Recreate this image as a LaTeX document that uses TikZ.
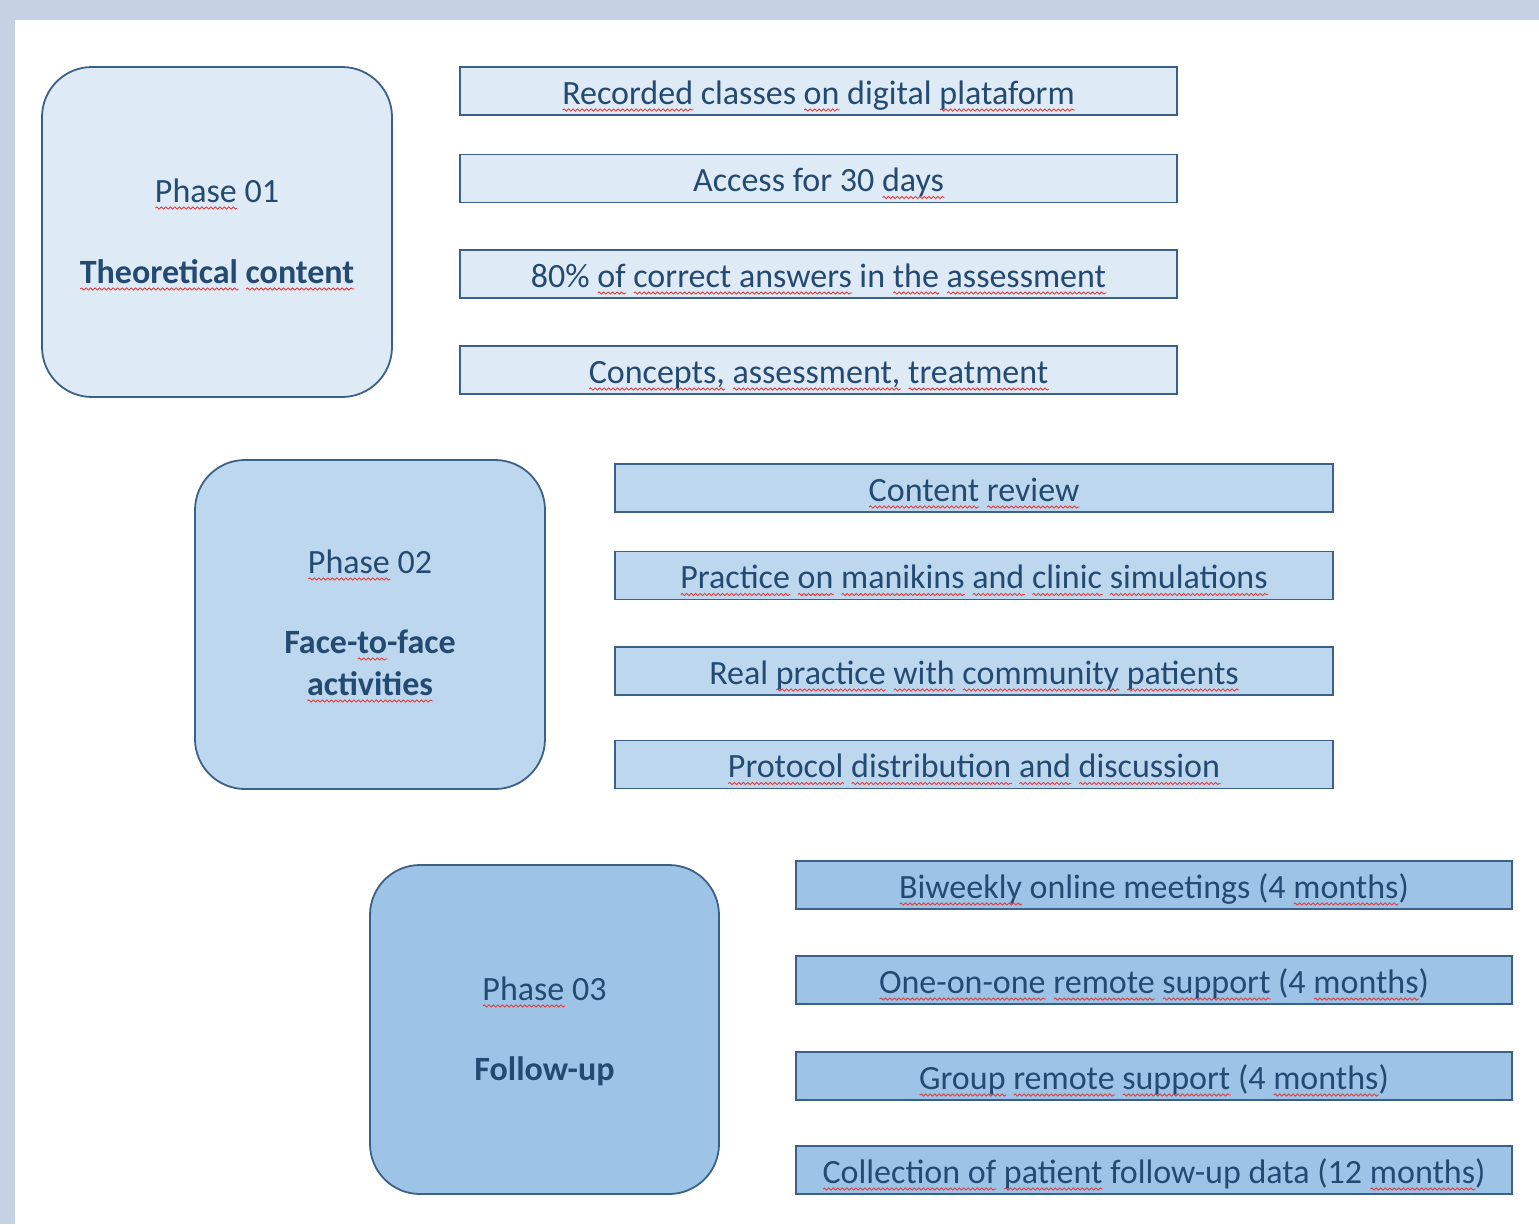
\documentclass[tikz,border=0pt]{standalone}
\usepackage{fontspec}
\setmainfont{Carlito}
\usetikzlibrary{decorations.pathmorphing}
\definecolor{frame}{HTML}{C5D2E3}
\definecolor{txt}{HTML}{244A72}
\definecolor{edge}{HTML}{3C6189}
\definecolor{fillA}{HTML}{DEEAF6}
\definecolor{fillB}{HTML}{BDD7EE}
\definecolor{fillC}{HTML}{9DC3E6}
\definecolor{sqred}{HTML}{E23C3C}
\newsavebox\sqbox
\newcommand\sq[1]{\sbox\sqbox{#1}\rlap{\tikz[baseline=0pt]\draw[sqred, line width=0.9pt, decorate, decoration={snake, amplitude=1.1pt, segment length=4.5pt}] (0pt,-6pt) -- (\wd\sqbox,-6pt);}\usebox\sqbox}
\tikzset{
  phasebox/.style={draw=edge, line width=1.8pt, rounded corners=50pt, minimum width=350pt, minimum height=330pt, inner sep=0pt},
  itembox/.style={draw=edge, line width=1.8pt, minimum width=717pt, minimum height=48pt, inner sep=0pt,
     text=txt, font=\fontsize{34}{40}\selectfont, text height=26pt, text depth=0pt},
  phaselabel/.style={anchor=base, text=txt, inner sep=0pt, font=\fontsize{34}{40}\selectfont},
  phasetitle/.style={anchor=base, text=txt, inner sep=0pt, font=\fontsize{34}{40}\selectfont\bfseries}
}
\begin{document}
\begin{tikzpicture}[x=1pt, y=-1pt]
\useasboundingbox (0,0) rectangle (1539,1224);
\fill[frame] (0,0) rectangle (1539,1224);
\fill[white] (15,20) rectangle (1539,1224);

% Phase 01
\node[phasebox, fill=fillA] (p1) at (217,232) {};
\node[phaselabel] (p1a) at (217,202) {\sq{Phase} 01};
\node[phasetitle] (p1b) at (217,283) {\sq{Theoretical} \sq{content}};
\node[itembox, fill=fillA] (a1) at (818.5,91) {\sq{Recorded} classes \sq{on} digital \sq{plataform}};
\node[itembox, fill=fillA] (a2) at (818.5,178.5) {Access for 30 \sq{days}};
\node[itembox, fill=fillA] (a3) at (818.5,274) {80\% \sq{of} \sq{correct answers} in \sq{the} \sq{assessment}};
\node[itembox, fill=fillA] (a4) at (818.5,370) {\sq{Concepts,} \sq{assessment,} \sq{treatment}};

% Phase 02
\node[phasebox, fill=fillB, minimum height=329pt] (p2) at (370,624.5) {};
\node[phaselabel] (p2a) at (370,573) {\sq{Phase} 02};
\node[phasetitle] (p2b) at (370,653) {Face-\sq{to}-face};
\node[phasetitle] (p2c) at (370,695) {\sq{activities}};
\node[itembox, fill=fillB, minimum width=718pt] (b1) at (974,488) {\sq{Content} \sq{review}};
\node[itembox, fill=fillB, minimum width=718pt] (b2) at (974,575.5) {\sq{Practice} \sq{on} \sq{manikins} \sq{and} \sq{clinic} \sq{simulations}};
\node[itembox, fill=fillB, minimum width=718pt] (b3) at (974,671) {Real \sq{practice} \sq{with} \sq{community} \sq{patients}};
\node[itembox, fill=fillB, minimum width=718pt] (b4) at (974,764.5) {\sq{Protocol} \sq{distribution} \sq{and} \sq{discussion}};

% Phase 03
\node[phasebox, fill=fillC, minimum width=349pt, minimum height=329pt] (p3) at (544.5,1029.5) {};
\node[phaselabel] (p3a) at (544.5,1000) {\sq{Phase} 03};
\node[phasetitle] (p3b) at (544.5,1080) {Follow-up};
\node[itembox, fill=fillC, minimum width=716pt] (c1) at (1154,885) {\sq{Biweekly} online meetings (4 \sq{months})};
\node[itembox, fill=fillC, minimum width=716pt] (c2) at (1154,980) {\sq{One-on-one} \sq{remote} \sq{support} (4 \sq{months})};
\node[itembox, fill=fillC, minimum width=716pt] (c3) at (1154,1076) {\sq{Group} \sq{remote} \sq{support} (4 \sq{months})};
\node[itembox, fill=fillC, minimum width=716pt] (c4) at (1154,1170) {\sq{Collection of} \sq{patient} follow-up data (12 \sq{months})};
\end{tikzpicture}
\end{document}
